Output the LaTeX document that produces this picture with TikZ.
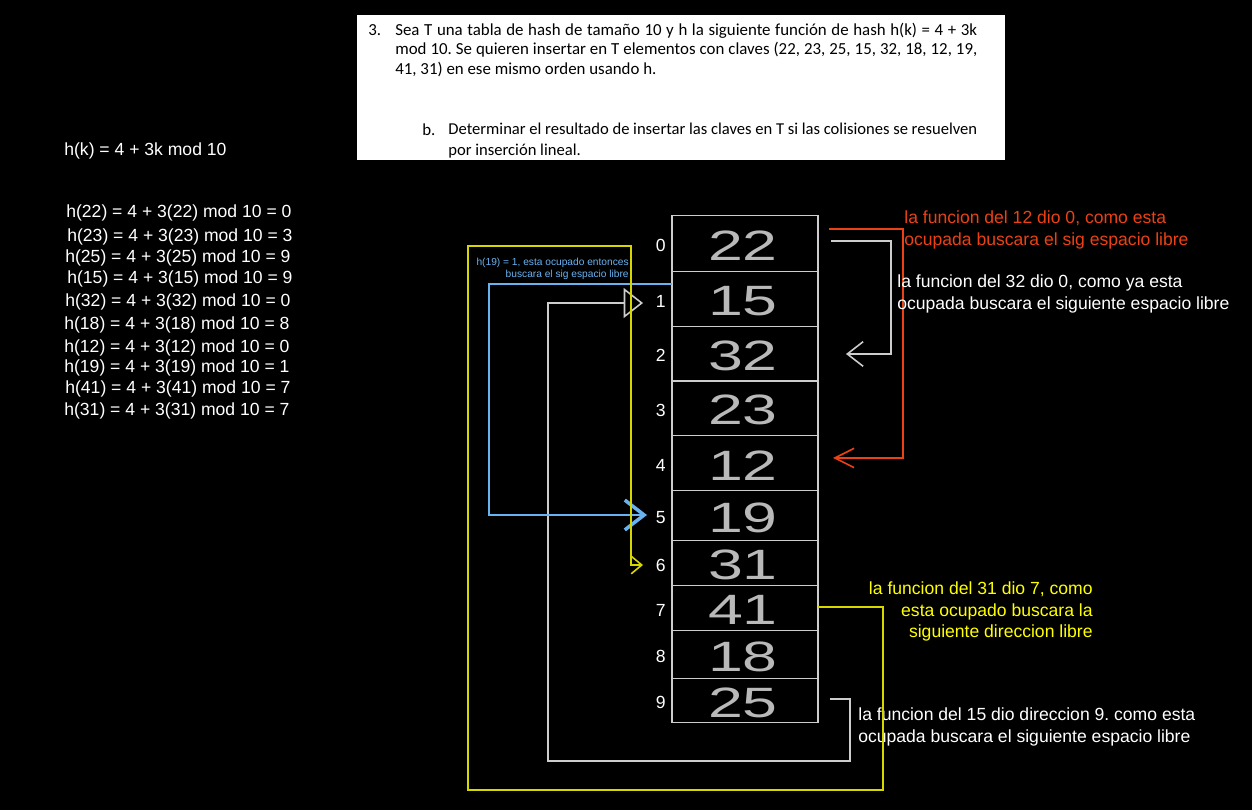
\documentclass[tikz,border=0pt]{standalone}
\usepackage{fontspec}
\setmainfont{Liberation Sans}
\newfontfamily\carlito{Carlito}
\usetikzlibrary{arrows.meta}
\frenchspacing

\definecolor{gris}{RGB}{205,205,205}
\definecolor{rojo}{RGB}{235,65,20}
\definecolor{amarillo}{RGB}{255,255,0}
\definecolor{amarilloLin}{RGB}{215,215,0}
\definecolor{azul}{RGB}{105,178,240}

\begin{document}
\begin{tikzpicture}[
			x=0.02cm, y=-0.02cm,
			celda/.style={draw=gris, line width=0.9pt},
			mano/.style={font=\fontsize{23}{23}\selectfont, text=gris!90!black, inner sep=0pt},
			indice/.style={font=\fontsize{10}{12}\selectfont, text=white, anchor=east, inner sep=0pt},
			lab/.style={font=\fontsize{10}{12.5}\selectfont, text=white, anchor=west, inner sep=0pt, align=left},
			enun/.style={font=\carlito\fontsize{9.6}{11.3}\selectfont, text=black, anchor=west, inner sep=0pt, align=justify},
			conBlanco/.style={draw=gris, line width=0.9pt},
			conRojo/.style={draw=rojo, line width=0.9pt},
			conAmarillo/.style={draw=amarilloLin, line width=0.9pt},
			conAzul/.style={draw=azul, line width=1.3pt},
			]
			
			\def\xL{672}     % borde izquierdo de la tabla
			\def\xR{818}     % borde derecho de la tabla
			\def\xV{743}     % centro de los valores escritos a mano
			
			% fondo negro
			\fill[black] (0,0) rectangle (1252,810);
			\useasboundingbox (0,0) rectangle (1252,810);
			
			%%═══ ENUNCIADO ════════════════════════════════════════════════
			\fill[white] (357,15) rectangle (1005,160);
			\node[enun, align=left] (num3) at (368,30) {3.};
			\node[enun, text width=11.64cm] (enunciado) at (395,50) {Sea T una tabla de hash de tamaño 10 y h la siguiente función de hash h(k) = 4 + 3k\linebreak
				mod 10. Se quieren insertar en T elementos con claves (22, 23, 25, 15, 32, 18, 12, 19,\linebreak
				41, 31) en ese mismo orden usando h.};
			\node[enun, align=left] (numb) at (422,130) {b.};
			\node[enun, text width=10.58cm, font=\carlito\fontsize{9.45}{11.9}\selectfont] (incisob) at (448,140.5) {Determinar el resultado de insertar las claves en T si las colisiones se resuelven\linebreak
				por inserción lineal.};
			
			%%═══ FUNCION Y CALCULOS ═══════════════════════════════════════
			\node[lab] (funcion) at (64,151) {h(k) = 4 + 3k mod 10};
			\foreach \k/\r/\x/\y in {22/0/66/213, 23/3/67/237, 25/9/65/258, 15/9/67/279, 32/0/65/302,
				18/8/64/325, 12/0/64/348, 19/1/64/368, 41/7/65/389, 31/7/64/411}
			\node[lab] (calc\k) at (\x,\y) {h(\k) = 4 + 3(\k) mod 10 = \r};
			
			%%═══ TABLA ════════════════════════════════════════════════════
			\foreach \i/\a/\b/\v in {0/215.7/271.7/22, 1/271.7/326.7/15, 2/326.7/381/32, 3/381/435.7/23,
				4/435.7/490.7/12, 5/490.7/540.7/19, 6/540.7/585.7/31, 7/585.7/630.7/41,
				8/630.7/678.7/18, 9/678.7/722.7/25}
			{
				\draw[celda] (\xL,\a) rectangle (\xR,\b);
				\node[mano] (v\i) at (\xV,{(\a+\b)/2+2}) {\scalebox{1.55}[1.05]{\v}};
				\node[indice] (i\i) at (666,{(\a+\b)/2+2}) {\i};
			}
			
			%%═══ COLISIONES ═══════════════════════════════════════════════
			% 12 -> posicion 4
			\coordinate (rojoIni) at (829,229);
			\coordinate (rojoFin) at (833,458);
			\draw[conRojo, -{Straight Barb[length=11pt, width=11pt]}] (rojoIni) -- (903,229) |- (rojoFin);
			\node[lab, text=rojo] (notaRojo) at (904,229.5) {la funcion del 12 dio 0, como esta\\ocupada buscara el sig espacio libre};
			
			% 32 -> posicion 2
			\coordinate (blancoIni) at (831,241);
			\coordinate (blancoFin) at (846,354);
			\draw[conBlanco, -{Straight Barb[length=9pt, width=14pt]}] (blancoIni) -- (891,241) |- (blancoFin);
			\node[lab] (notaBlanco) at (897,294) {la funcion del 32 dio 0, como ya esta\\ocupada buscara el siguiente espacio libre};
			
			% 15 -> posicion 1
			\coordinate (blanco2Ini) at (830,699);
			\coordinate (blanco2Fin) at (643,303);
			\draw[conBlanco, -{Triangle[open, length=11pt, width=17pt]}] (blanco2Ini) -- (850,699) |- (548,761) |- (blanco2Fin);
			\node[lab] (notaBlanco2) at (858,727) {la funcion del 15 dio direccion 9. como esta\\ocupada buscara el siguiente espacio libre};
			
			% 19 -> posicion 5
			\coordinate (azulIni) at (\xL,284);
			\coordinate (azulFin) at (647,515);
			\draw[conAzul, -{Straight Barb[length=11pt, width=17pt, line width=2pt]}] (azulIni) -- (489,284) |- (azulFin);
			\node[lab, text=azul, anchor=east, align=right, font=\fontsize{5.8}{6.8}\selectfont] (notaAzul) at (629,269) {h(19) = 1, esta ocupado entonces\\buscara el sig espacio libre};
			
			% 31 -> posicion 6
			\coordinate (amIni) at (\xR,607);
			\coordinate (amFin) at (643,565);
			\draw[conAmarillo, -{Straight Barb[length=6pt, width=10pt]}] (amIni) -- (883,607) |- (468,790) |- (631,246) |- (amFin);
			\node[lab, text=amarillo, anchor=east, align=right, font=\fontsize{10}{12.2}\selectfont] (notaAmarillo) at (1093,611.5) {la funcion del 31 dio 7, como\\esta ocupado buscara la\\siguiente direccion libre};
			
		\end{tikzpicture}
\end{document}
